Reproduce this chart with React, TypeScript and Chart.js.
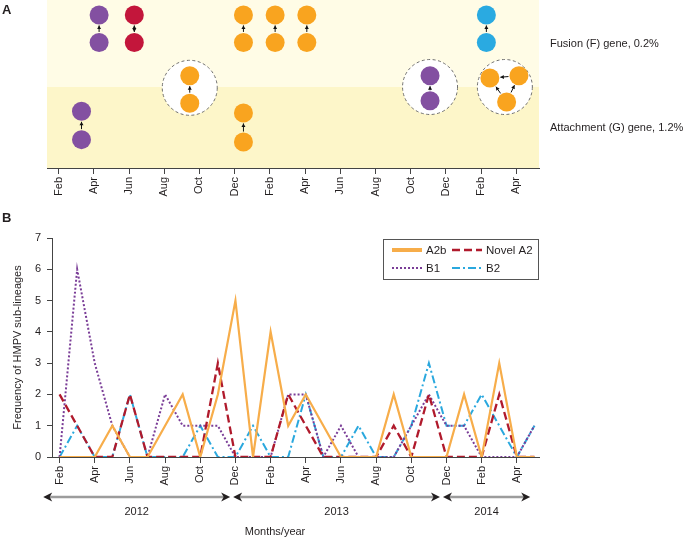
import React, { useEffect, useRef } from "react";
import { Chart, registerables } from "chart.js";

Chart.register(...registerables);

const FONT = "'Liberation Sans', Arial, Helvetica, sans-serif";
const TEXT = "#231f20";
const AXIS = "#444444";

// ---------- shared month axis (index 0 = Feb 2012) ----------
const monthNames = [
  "Feb", "Mar", "Apr", "May", "Jun", "Jul", "Aug", "Sep", "Oct", "Nov", "Dec", "Jan",
  "Feb", "Mar", "Apr", "May", "Jun", "Jul", "Aug", "Sep", "Oct", "Nov", "Dec", "Jan",
  "Feb", "Mar", "Apr", "May",
];
const tickMonths = [0, 2, 4, 6, 8, 10, 12, 14, 16, 18, 20, 22, 24, 26];

// ---------- panel B series ----------
const a2b = [0, 0, 0, 1, 0, 0, 1, 2, 0, 2, 5, 0, 4, 1, 2, 1, 0, 0, 0, 2, 0, 0, 0, 2, 0, 3, 0, 0];
const novelA2 = [2, 1, 0, 0, 2, 0, 0, 0, 0, 3, 0, 0, 0, 2, 1, 0, 0, 0, 0, 1, 0, 2, 0, 0, 0, 2, 0, 0];
const b1 = [0, 6, 3, 1, 0, 0, 2, 1, 1, 1, 0, 0, 0, 2, 2, 0, 1, 0, 0, 0, 1, 2, 1, 1, 0, 0, 0, 1];
const b2 = [0, 1, 0, 0, 2, 0, 0, 0, 1, 0, 0, 1, 0, 0, 2, 0, 0, 1, 0, 0, 1, 3, 1, 1, 2, 1, 0, 1];
const seriesLabels = ["A2b", "Novel A2", "B1", "B2"];

const yearLabels = ["2012", "2013", "2014"];
const yearStart = [-0.93, 9.87, 21.8];
const yearEnd = [9.7, 21.63, 26.76];

// ---------- panel A (transmission clusters) ----------
const laneLabels = ["Fusion (F) gene, 0.2%", "Attachment (G) gene, 1.2%"];
const purpleMonths = [2.3, 2.3, 1.3, 1.3, 21.1, 21.1];
const purpleLanes = [1.89, 1.55, 0.7, 0.35, 1.14, 0.83];
const redMonths = [4.3, 4.3];
const redLanes = [1.89, 1.55];
const orangeMonths = [10.5, 10.5, 12.3, 12.3, 14.1, 14.1, 7.45, 7.45, 10.5, 10.5, 24.5, 26.15, 25.45];
const orangeLanes = [1.89, 1.55, 1.89, 1.55, 1.89, 1.55, 1.14, 0.8, 0.68, 0.32, 1.11, 1.14, 0.815];
const blueMonths = [24.3, 24.3];
const blueLanes = [1.89, 1.55];
const ringMonths = [7.45, 21.1, 25.35];
const ringLanes = [0.99, 1.0, 1.0];
// [dataset, from, to, doubleHeaded]
const arrowLinks = [
  [0, 1, 0, 0], [0, 3, 2, 0], [0, 5, 4, 0],
  [1, 1, 0, 1],
  [2, 1, 0, 0], [2, 3, 2, 0], [2, 5, 4, 0], [2, 7, 6, 0], [2, 9, 8, 0],
  [2, 11, 10, 0], [2, 12, 10, 0], [2, 12, 11, 0],
  [3, 1, 0, 0],
];

const COL_PURPLE = "#8350a1";
const COL_RED = "#c3163b";
const COL_ORANGE = "#f9a41f";
const COL_BLUE = "#2aaae1";

const toPts = (xs: number[], ys: number[]) => xs.map((x, i) => ({ x, y: ys[i] }));

const monthTickCallback = (v: any) => monthNames[Math.round(Number(v))] ?? "";

function xAxisCommon(min: number, max: number, height: number) {
  return {
    type: "linear" as const,
    min,
    max,
    afterBuildTicks: (s: any) => {
      s.ticks = tickMonths.map((v) => ({ value: v }));
    },
    afterFit: (s: any) => {
      s.height = height;
    },
    grid: { drawOnChartArea: false, drawTicks: true, tickLength: 6, color: AXIS, lineWidth: 1 },
    border: { display: true, color: AXIS, width: 1 },
    ticks: {
      autoSkip: false,
      minRotation: 90,
      maxRotation: 90,
      padding: 3,
      color: TEXT,
      font: { family: FONT, size: 11 },
      callback: monthTickCallback,
    },
  };
}

const RING_INDEX = 4;

const panelADecor = {
  id: "panelADecor",
  beforeDraw(chart: any) {
    const { ctx, chartArea, scales } = chart;
    const mid = scales.y.getPixelForValue(1);
    ctx.save();
    ctx.fillStyle = "#fffce6";
    ctx.fillRect(chartArea.left, chartArea.top, chartArea.right - chartArea.left, mid - chartArea.top);
    ctx.fillStyle = "#fdf6c9";
    ctx.fillRect(chartArea.left, mid, chartArea.right - chartArea.left, chartArea.bottom - mid);
    ctx.restore();
  },
  beforeDatasetDraw(chart: any, args: any) {
    if (args.index === RING_INDEX) chart.ctx.setLineDash([3, 2.5]);
  },
  afterDatasetDraw(chart: any, args: any) {
    if (args.index === RING_INDEX) chart.ctx.setLineDash([]);
  },
  afterDatasetsDraw(chart: any) {
    const { ctx } = chart;
    ctx.save();
    ctx.strokeStyle = "#111";
    ctx.fillStyle = "#111";
    ctx.lineWidth = 1;
    const head = (x: number, y: number, ux: number, uy: number) => {
      const L = 3.5, W = 2;
      ctx.beginPath();
      ctx.moveTo(x, y);
      ctx.lineTo(x - ux * L - uy * W, y - uy * L + ux * W);
      ctx.lineTo(x - ux * L + uy * W, y - uy * L - ux * W);
      ctx.closePath();
      ctx.fill();
    };
    arrowLinks.forEach(([ds, from, to, dbl]) => {
      const meta = chart.getDatasetMeta(ds);
      const p1 = meta.data[from];
      const p2 = meta.data[to];
      const r = chart.data.datasets[ds].pointRadius;
      const dx = p2.x - p1.x, dy = p2.y - p1.y;
      const d = Math.hypot(dx, dy);
      const ux = dx / d, uy = dy / d;
      const sx = p1.x + ux * (r + 1), sy = p1.y + uy * (r + 1);
      const ex = p2.x - ux * (r + 1), ey = p2.y - uy * (r + 1);
      ctx.beginPath();
      ctx.moveTo(sx, sy);
      ctx.lineTo(ex, ey);
      ctx.stroke();
      head(ex, ey, ux, uy);
      if (dbl) head(sx, sy, -ux, -uy);
    });
    ctx.restore();
  },
  afterDraw(chart: any) {
    const { ctx, chartArea, scales } = chart;
    const mid = scales.y.getPixelForValue(1);
    ctx.save();
    ctx.fillStyle = TEXT;
    ctx.font = `bold 13px ${FONT}`;
    ctx.textAlign = "left";
    ctx.textBaseline = "alphabetic";
    ctx.fillText("A", 2, 14);
    ctx.font = `11px ${FONT}`;
    ctx.textBaseline = "middle";
    ctx.fillText(laneLabels[0], chartArea.right + 11, (chartArea.top + mid) / 2);
    ctx.fillText(laneLabels[1], chartArea.right + 11, (mid + chartArea.bottom) / 2);
    ctx.restore();
  },
};

const panelBDecor = {
  id: "panelBDecor",
  afterDraw(chart: any) {
    const { ctx, chartArea, scales } = chart;
    const x = scales.x;
    ctx.save();
    ctx.fillStyle = TEXT;
    ctx.font = `bold 13px ${FONT}`;
    ctx.textAlign = "left";
    ctx.textBaseline = "alphabetic";
    ctx.fillText("B", 2, 17);

    // legend box
    const lw = 156, lh = 41;
    const lx = chartArea.right - lw, ly = chartArea.top + 1;
    ctx.fillStyle = "#ffffff";
    ctx.fillRect(lx, ly, lw, lh);
    ctx.strokeStyle = "#555";
    ctx.lineWidth = 1;
    ctx.strokeRect(lx + 0.5, ly + 0.5, lw - 1, lh - 1);
    chart.data.datasets.forEach((ds: any, i: number) => {
      const col = i % 2, row = Math.floor(i / 2);
      const sx = lx + (col ? 69 : 9);
      const sy = ly + (row ? 29 : 11);
      ctx.strokeStyle = ds.borderColor;
      ctx.lineWidth = i === 0 ? 4 : ds.borderWidth;
      ctx.setLineDash(ds.borderDash || []);
      ctx.beginPath();
      ctx.moveTo(sx, sy);
      ctx.lineTo(sx + 30, sy);
      ctx.stroke();
      ctx.setLineDash([]);
      ctx.fillStyle = TEXT;
      ctx.font = `11.5px ${FONT}`;
      ctx.textBaseline = "middle";
      ctx.textAlign = "left";
      ctx.fillText(ds.label, sx + 34, sy + 0.5);
    });

    // year arrows
    const ay = chartArea.bottom + 40;
    const head = (tx: number, dir: number) => {
      ctx.beginPath();
      ctx.moveTo(tx, ay);
      ctx.lineTo(tx - dir * 9, ay - 4.5);
      ctx.lineTo(tx - dir * 6.5, ay);
      ctx.lineTo(tx - dir * 9, ay + 4.5);
      ctx.closePath();
      ctx.fill();
    };
    yearLabels.forEach((lab, i) => {
      const x1 = x.getPixelForValue(yearStart[i]);
      const x2 = x.getPixelForValue(yearEnd[i]);
      ctx.strokeStyle = "#9c9c9c";
      ctx.lineWidth = 2.5;
      ctx.beginPath();
      ctx.moveTo(x1 + 6, ay);
      ctx.lineTo(x2 - 6, ay);
      ctx.stroke();
      ctx.fillStyle = TEXT;
      head(x1, -1);
      head(x2, 1);
      ctx.font = `11px ${FONT}`;
      ctx.textAlign = "center";
      ctx.textBaseline = "middle";
      ctx.fillText(lab, (x1 + x2) / 2, chartArea.bottom + 55);
    });
    ctx.font = `11px ${FONT}`;
    ctx.textAlign = "center";
    ctx.textBaseline = "middle";
    ctx.fillText("Months/year", x.getPixelForValue(12.25), chartArea.bottom + 75);
    ctx.restore();
  },
};

export default function App() {
  const refA = useRef<HTMLCanvasElement>(null);
  const refB = useRef<HTMLCanvasElement>(null);

  useEffect(() => {
    const dot = (color: string, xs: number[], ys: number[]) => ({
      data: toPts(xs, ys),
      pointRadius: 9.5,
      pointBackgroundColor: color,
      pointBorderWidth: 0,
      showLine: false,
      clip: false as const,
    });
    const chartA = new Chart(refA.current as HTMLCanvasElement, {
      type: "scatter",
      data: {
        datasets: [
          dot(COL_PURPLE, purpleMonths, purpleLanes),
          dot(COL_RED, redMonths, redLanes),
          dot(COL_ORANGE, orangeMonths, orangeLanes),
          dot(COL_BLUE, blueMonths, blueLanes),
          {
            data: toPts(ringMonths, ringLanes),
            pointRadius: 27.5,
            pointBackgroundColor: "#ffffff",
            pointBorderColor: "#707070",
            pointBorderWidth: 1,
            showLine: false,
            clip: false as const,
          },
        ] as any,
      },
      options: {
        responsive: false,
        animation: false,
        devicePixelRatio: 1,
        events: [],
        layout: { autoPadding: false, padding: { left: 47, right: 146, top: 0, bottom: 0 } },
        plugins: { legend: { display: false }, tooltip: { enabled: false } },
        scales: {
          x: xAxisCommon(-0.66, 27.29, 37) as any,
          y: { type: "linear", display: false, min: 0, max: 168 / 81 },
        },
      } as any,
      plugins: [panelADecor],
    });

    const line = (label: string, values: number[], color: string, width: number, dash: number[]) => ({
      label,
      data: values.map((v, i) => ({ x: i, y: v })),
      borderColor: color,
      backgroundColor: color,
      borderWidth: width,
      borderDash: dash,
      pointRadius: 0,
      tension: 0,
      fill: false,
    });

    const chartB = new Chart(refB.current as HTMLCanvasElement, {
      type: "line",
      data: {
        datasets: [
          line(seriesLabels[0], a2b, "#f7ad4a", 2.2, []),
          line(seriesLabels[1], novelA2, "#b01a2c", 2.3, [8, 4]),
          line(seriesLabels[2], b1, "#7a3d97", 2, [2, 2]),
          line(seriesLabels[3], b2, "#2aa8de", 2, [8, 3, 2, 3]),
        ] as any,
      },
      options: {
        responsive: false,
        animation: false,
        devicePixelRatio: 1,
        events: [],
        layout: { padding: { left: 0, right: 146, top: 33, bottom: 0 } },
        plugins: { legend: { display: false }, tooltip: { enabled: false } },
        scales: {
          x: xAxisCommon(-0.43, 27.26, 81) as any,
          y: {
            type: "linear",
            min: 0,
            max: 7,
            afterFit: (s: any) => {
              s.width = 52;
            },
            grid: { drawOnChartArea: false, drawTicks: true, tickLength: 5, color: AXIS },
            border: { display: true, color: AXIS, width: 1 },
            ticks: { stepSize: 1, padding: 6, color: TEXT, font: { family: FONT, size: 11 } },
            title: {
              display: true,
              text: "Frequency of HMPV sub-lineages",
              color: TEXT,
              font: { family: FONT, size: 11 },
              padding: { top: 11, bottom: 0 },
            },
          },
        },
      },
      plugins: [panelBDecor],
    });

    return () => {
      chartA.destroy();
      chartB.destroy();
    };
  }, []);

  return (
    <div style={{ position: "absolute", left: 0, top: 0, width: 685, height: 538, background: "#fff" }}>
      <canvas ref={refA} width={685} height={205} style={{ position: "absolute", left: 0, top: 0 }} />
      <canvas ref={refB} width={685} height={333} style={{ position: "absolute", left: 0, top: 205 }} />
    </div>
  );
}
